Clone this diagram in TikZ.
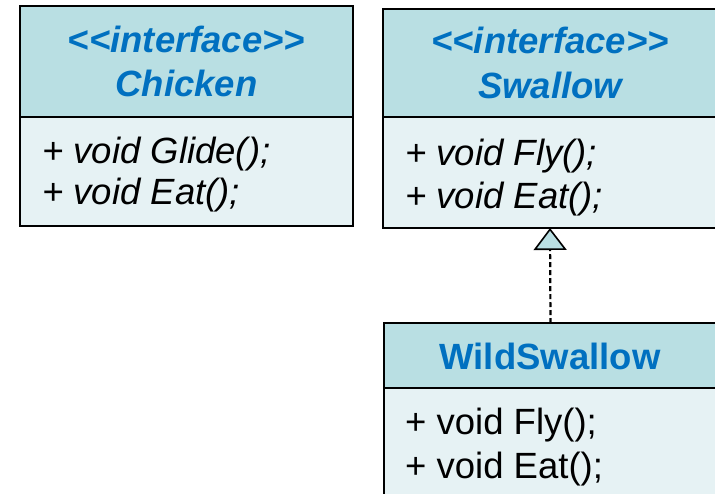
\documentclass[tikz,border=0pt]{standalone}
\usepackage{fontspec}
\setmainfont{Liberation Sans}
\usetikzlibrary{arrows.meta}
\definecolor{headfill}{RGB}{185,223,227}
\definecolor{bodyfill}{RGB}{230,242,244}
\definecolor{titleblue}{RGB}{0,112,192}
\begin{document}
\begin{tikzpicture}[x=1pt,y=-1pt,
  box/.style={draw=black, line width=2pt, inner sep=0pt, outer sep=0pt, anchor=north west},
  head/.style={box, fill=headfill},
  body/.style={box, fill=bodyfill},
  ttl/.style={anchor=base, inner sep=0pt, text=titleblue, font=\fontsize{36.5}{44}\selectfont\bfseries},
  ittl/.style={ttl, font=\fontsize{36.5}{44}\selectfont\bfseries\itshape},
  member/.style={anchor=base west, inner sep=0pt, text=black, font=\fontsize{36.5}{44}\selectfont},
  imember/.style={member, font=\fontsize{36.5}{44}\selectfont\itshape},
  realize/.style={line width=2.2pt, dash pattern=on 5pt off 3pt,
    -{Triangle[length=22pt, width=33pt, fill=headfill, line width=1.6pt]}}
]
\useasboundingbox (0,0) rectangle (715,493);

% Chicken interface
\node[head, minimum width=333pt, minimum height=111pt] (chickenHead) at (20,6) {};
\node[body, minimum width=333pt, minimum height=108.5pt] (chickenBody) at (20,117) {};
\node[ittl] (chickenStereo) at (186.5,52) {<\kern0pt<interface>\kern0pt>};
\node[ittl] (chickenName) at (186.5,96) {Chicken};
\node[imember] (chickenGlide) at (42,163.5) {+ void Glide();};
\node[imember] (chickenEat) at (42,204) {+ void Eat();};

% Swallow interface
\node[head, minimum width=334pt, minimum height=108pt] (swallowHead) at (383,9) {};
\node[body, minimum width=334pt, minimum height=111pt] (swallowBody) at (383,117) {};
\node[ittl] (swallowStereo) at (550,53) {<\kern0pt<interface>\kern0pt>};
\node[ittl] (swallowName) at (550,98) {Swallow};
\node[imember] (swallowFly) at (405,165) {+ void Fly();};
\node[imember] (swallowEat) at (405,208) {+ void Eat();};

% WildSwallow class
\node[head, minimum width=333pt, minimum height=65pt] (wildHead) at (384,323) {};
\node[body, minimum width=333pt, minimum height=120pt] (wildBody) at (384,388) {};
\node[ttl] (wildName) at (550,369.5) {WildSwallow};
\node[member] (wildFly) at (405,434) {+ void Fly();};
\node[member] (wildEat) at (405,478) {+ void Eat();};

% realization
\draw[realize] (wildHead.north) -- (swallowBody.south);
\end{tikzpicture}
\end{document}
